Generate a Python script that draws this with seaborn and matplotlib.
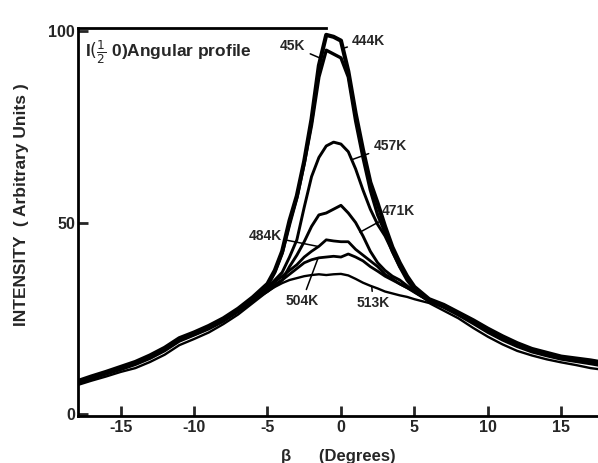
import numpy as np
import pandas as pd
import matplotlib
matplotlib.use("Agg")
import matplotlib.pyplot as plt
import seaborn as sns

# beta grid (degrees)
beta = [-18, -17, -16, -15, -14, -13, -12, -11, -10, -9, -8, -7, -6, -5, -4.5, -4, -3.5,
        -3, -2.5, -2, -1.5, -1, -0.5, 0, 0.5, 1, 1.5, 2, 2.5, 3, 3.5, 4, 4.5, 5,
        6, 7, 8, 9, 10, 11, 12, 13, 14, 15, 16, 17, 17.6]

I_444 = [8.5, 9.8, 11.0, 12.3, 13.6, 15.3, 17.3, 19.8, 21.3, 23.0, 25.0, 27.5, 30.5, 34.0, 37.5, 42.5, 50.5,
         57.0, 66.0, 77.0, 91.0, 99.0, 98.5, 97.5, 89.5, 78.5, 69.0, 60.5, 55.0, 49.0, 43.6, 39.5, 36.0, 33.2,
         30.0, 28.5, 26.5, 24.5, 22.3, 20.3, 18.5, 17.0, 16.0, 15.0, 14.5, 14.0, 13.6]
I_445 = [8.0, 9.3, 10.6, 11.8, 13.2, 14.8, 16.8, 19.3, 20.8, 22.5, 24.6, 27.0, 30.0, 33.5, 37.0, 42.0, 49.5,
         56.5, 65.5, 75.5, 88.0, 95.0, 94.0, 93.0, 88.0, 76.5, 67.0, 58.5, 52.0, 47.5, 42.5, 38.5, 35.0, 32.5,
         29.8, 28.3, 26.3, 24.2, 22.0, 20.0, 18.3, 16.8, 15.8, 14.8, 14.3, 13.7, 13.3]
I_457 = [8.3, 9.6, 10.9, 12.1, 13.4, 15.1, 17.1, 19.6, 21.1, 22.8, 24.8, 27.2, 30.0, 33.0, 35.0, 37.0, 41.0,
         45.5, 54.0, 62.0, 67.0, 70.0, 71.0, 70.5, 68.5, 64.0, 58.5, 53.5, 49.5, 46.5, 42.5, 38.5, 35.5, 33.0,
         29.8, 28.4, 26.4, 24.3, 22.2, 20.2, 18.4, 16.9, 15.9, 14.9, 14.4, 13.9, 13.5]
I_471 = [8.2, 9.5, 10.8, 12.0, 13.3, 15.0, 17.0, 19.5, 21.0, 22.6, 24.6, 27.0, 29.8, 32.0, 33.5, 35.0, 38.5,
         41.5, 45.0, 49.0, 52.0, 52.5, 53.5, 54.5, 52.5, 50.0, 46.5, 42.5, 39.5, 37.5, 36.0, 35.0, 33.5, 32.0,
         29.5, 28.2, 26.2, 24.2, 22.0, 20.0, 18.2, 16.8, 15.8, 14.8, 14.3, 13.8, 13.4]
I_484 = [8.1, 9.4, 10.7, 11.9, 13.2, 14.9, 16.9, 19.4, 20.9, 22.5, 24.5, 27.0, 29.6, 33.0, 34.5, 36.0, 37.5,
         39.0, 41.0, 42.5, 43.8, 45.5, 45.2, 45.0, 45.0, 43.0, 41.5, 40.0, 38.5, 36.5, 35.3, 34.0, 33.0, 32.0,
         29.5, 28.0, 26.0, 24.0, 21.8, 19.8, 18.0, 16.6, 15.6, 14.7, 14.2, 13.6, 13.2]
I_504 = [7.9, 9.2, 10.4, 11.6, 12.9, 14.5, 16.5, 19.0, 20.6, 22.2, 24.2, 26.7, 29.4, 32.5, 33.8, 35.0, 36.5,
         38.0, 39.5, 40.3, 40.8, 41.0, 41.2, 41.0, 41.8, 41.0, 40.0, 38.5, 37.3, 36.0, 35.0, 34.0, 33.0, 31.8,
         29.5, 27.8, 25.8, 23.6, 21.3, 19.3, 17.6, 16.2, 15.2, 14.3, 13.7, 13.1, 12.7]
I_513 = [7.5, 8.7, 9.8, 11.0, 12.0, 13.6, 15.5, 18.0, 19.6, 21.3, 23.5, 26.0, 29.0, 32.0, 33.2, 34.2, 35.0,
         35.5, 36.0, 36.3, 36.5, 36.3, 36.5, 36.6, 36.2, 35.3, 34.3, 33.5, 32.8, 32.0, 31.5, 31.0, 30.6, 30.0,
         29.0, 27.0, 25.0, 22.5, 20.2, 18.2, 16.5, 15.3, 14.3, 13.5, 12.8, 12.0, 11.7]

temps = ["444K", "445K", "457K", "471K", "484K", "504K", "513K"]
series = [I_444, I_445, I_457, I_471, I_484, I_504, I_513]
widths = {"444K": 3.0, "445K": 2.4, "457K": 2.1, "471K": 2.1, "484K": 2.0, "504K": 2.0, "513K": 1.7}

# label annotations: (text, curve point beta, curve point I, text beta, text I, ha)
labels = [("45K", -1.45, 93.0, -2.4, 96.0, "right"),
          ("444K", 0.15, 95.5, 0.75, 97.5, "left"),
          ("457K", 0.8, 66.5, 2.2, 70.0, "left"),
          ("471K", 1.3, 47.5, 2.8, 53.0, "left"),
          ("484K", -1.6, 43.8, -4.0, 46.5, "right"),
          ("504K", -1.55, 40.8, -2.65, 29.5, "center"),
          ("513K", 2.1, 33.2, 2.2, 29.0, "center")]

df = pd.concat([pd.DataFrame({"beta": beta, "I": s, "T": t}) for t, s in zip(temps, series)],
               ignore_index=True)

sns.set_style("ticks")
plt.rcParams["font.family"] = ["Liberation Sans", "DejaVu Sans"]

fig = plt.figure(figsize=(5.98, 4.63), dpi=100)
ax = fig.add_axes([78 / 598, 47 / 463, 520 / 598, 388 / 463])

sns.lineplot(data=df, x="beta", y="I", hue="T", size="T", sizes=widths,
             palette={t: "black" for t in temps}, estimator=None, sort=False,
             legend=False, ax=ax)

ax.set_xlim(-17.9, 17.5)
ax.set_ylim(-0.5, 100.8)
ax.set_xticks([-15, -10, -5, 0, 5, 10, 15])
ax.set_xticklabels(["-15", "-10", "-5", "0", "5", "10", "15"])
ax.set_yticks([0, 50, 100])
ax.set_yticklabels(["0", "50", "100"])
ax.tick_params(direction="in", length=7, width=2.0, labelsize=11.5, pad=3)
ax.tick_params(axis="y", pad=2)
for lab in ax.get_xticklabels() + ax.get_yticklabels():
    lab.set_fontweight("bold")

ax.spines["right"].set_visible(False)
ax.spines["top"].set_bounds(-17.9, -1.0)
for sp in ["left", "bottom", "top"]:
    ax.spines[sp].set_linewidth(2.0)
    ax.spines[sp].set_color("black")

ax.set_xlabel("β      (Degrees)", fontsize=12, fontweight="bold")
ax.xaxis.set_label_coords(0.5, -0.085)
ax.set_ylabel("INTENSITY  ( Arbitrary Units )", fontsize=12.5, fontweight="bold")
ax.yaxis.set_label_coords(-0.094, 0.545)

ax.text(-17.4, 94.5, r"I$(\frac{1}{2}$ 0)Angular profile", fontsize=12.5, fontweight="bold",
        va="center", ha="left")

for txt, xb, yi, tb, ti, ha in labels:
    ax.annotate(txt, xy=(xb, yi), xytext=(tb, ti), ha=ha, va="center",
                fontsize=10, fontweight="bold",
                arrowprops=dict(arrowstyle="-", color="black", lw=1.1, shrinkA=1, shrinkB=0))

fig.savefig("out.png", dpi=100, facecolor="white")
